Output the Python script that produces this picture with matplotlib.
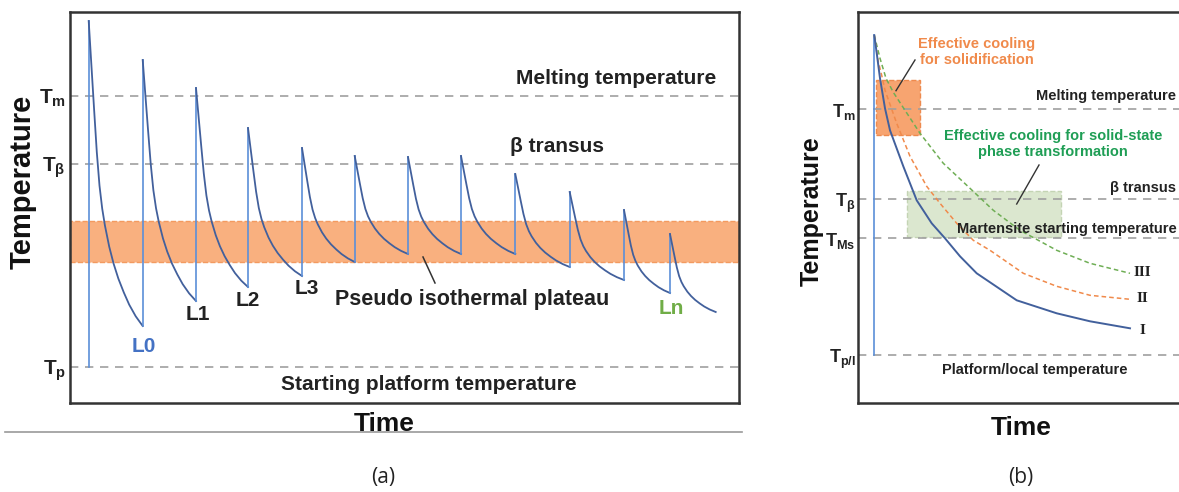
import numpy as np
import matplotlib
matplotlib.use("Agg")
import matplotlib.pyplot as plt

plt.rcParams['font.family'] = ['Liberation Sans', 'DejaVu Sans']
plt.rcParams['mathtext.fontset'] = 'custom'
plt.rcParams['mathtext.rm'] = 'Liberation Sans:bold'
plt.rcParams['mathtext.bf'] = 'Liberation Sans:bold'
plt.rcParams['mathtext.it'] = 'Liberation Sans:bold'

# ---- panel (a): layer-by-layer thermal cycles (schematic units) ----
T_m_a, T_beta_a, T_p_a = 307, 239, 36
band_lo, band_hi = 141, 182
spike_x = [18.7, 72.7, 126, 178, 232, 284.7, 338, 391, 445.3, 499.7, 554, 600]
spike_peak = [382, 343, 315, 275, 255, 247, 246, 247, 229, 211, 193, 169]
cycle_end_x = [72.7, 126, 178, 232, 284.7, 338, 391, 445.3, 499.7, 554, 600, 645.7]
cycle_end_y = [77, 102, 116, 127, 141, 149, 149, 149, 136, 123, 110, 91]
# normalised cooling shape
decay_t = [0, 0.05, 0.1, 0.15, 0.2, 0.25, 0.3, 0.38, 0.46, 0.55, 0.65,
           0.75, 0.87, 1.0]
decay_f = [0, 0.145, 0.29, 0.43, 0.54, 0.615, 0.67, 0.74, 0.795, 0.845,
           0.89, 0.93, 0.968, 1.0]
layer_labels = ["L0", "L1", "L2", "L3", "Ln"]
layer_pos = [(74, 56), (128, 88), (178, 102), (237, 115), (601, 95)]
layer_colors = ["#4472c4", "#222222", "#222222", "#222222", "#70ad47"]

# ---- panel (b): cooling curves ----
T_m_b, T_beta_b, T_ms_b, T_pl_b = 294, 204, 165, 48
start_x, peak_b = 16, 368
curve1_x = [16, 18.7, 21.7, 26.7, 31.7, 45, 58.4, 73.4, 86.7, 101.7, 118.4,
            134.7, 158.4, 198.4, 231.7, 271.7]
curve1_y = [368, 348, 325, 295, 273, 237, 203, 180, 165, 147, 130,
            119, 103, 90, 82, 75]
curve2_x = [16, 19.7, 23.4, 26.7, 38.4, 51.7, 68.4, 81.7, 98.4, 115, 131.7,
            165, 198.4, 231.7, 271.7]
curve2_y = [368, 343, 328, 313, 280, 247, 217, 200, 180, 163, 153,
            130, 117, 108, 104]
curve3_x = [16, 21.7, 27.7, 35, 46.7, 61.7, 85, 111.7, 135, 161.7, 198.4,
            231.7, 271.7]
curve3_y = [368, 345, 325, 311, 293, 270, 240, 215, 193, 173, 153, 140, 130]
solid_box = (17.7, 268.6, 44, 54.7)   # x, y, w, h
phase_box = (48.4, 166.6, 154, 45.7)

W, H = 1179, 492
fig = plt.figure(figsize=(W / 100, H / 100), dpi=100)

grey = "#a0a0a0"
blue_dark = "#42609c"
blue_light = "#5b8fd8"

# ================= (a) =================
ax = fig.add_axes([70 / W, (H - 403) / H, 669 / W, 391 / H])
ax.set_xlim(0, 669)
ax.set_ylim(0, 391)
ax.axhspan(band_lo, band_hi, facecolor="#f9b07f", edgecolor="#f39a60",
           linestyle="--", linewidth=1.0, zorder=1)
for yv in [T_m_a, T_beta_a, T_p_a]:
    ax.axhline(yv, color=grey, linestyle=(0, (5, 4)), linewidth=1.2, zorder=2)

prev_y = T_p_a
for i in range(len(spike_x)):
    ax.plot([spike_x[i], spike_x[i]], [prev_y, spike_peak[i]],
            color=blue_light, linewidth=1.2, zorder=3)
    t = np.array(decay_t)
    f = np.array(decay_f)
    xs = spike_x[i] + t * (cycle_end_x[i] - spike_x[i])
    ys = spike_peak[i] - f * (spike_peak[i] - cycle_end_y[i])
    ax.plot(xs, ys, color=blue_dark, linewidth=1.3, zorder=3)
    prev_y = cycle_end_y[i]

ax.set_yticks([T_m_a, T_beta_a, T_p_a])
ax.set_yticklabels([r"$\mathbf{T_m}$", r"$\mathbf{T_{\beta}}$", r"$\mathbf{T_p}$"],
                   fontsize=15, color="#222222")
ax.set_xticks([])
ax.tick_params(axis="y", length=0, pad=3)
for s in ax.spines.values():
    s.set_linewidth(1.8)
    s.set_color("#333333")

ax.text(646, 325, "Melting temperature", ha="right", va="center",
        fontsize=15, fontweight="bold", color="#222222")
ax.text(440, 257, "β transus", ha="left", va="center",
        fontsize=15, fontweight="bold", color="#222222")
ax.text(265, 103, "Pseudo isothermal plateau", ha="left", va="center",
        fontsize=15.5, fontweight="bold", color="#222222")
ax.plot([365, 353], [120, 146], color="#333333", linewidth=1.1, zorder=4)
ax.text(359, 18, "Starting platform temperature", ha="center", va="center",
        fontsize=15, fontweight="bold", color="#222222")
for lab, (lx, ly), lc in zip(layer_labels, layer_pos, layer_colors):
    ax.text(lx, ly, lab, ha="center", va="center", fontsize=15,
            fontweight="bold", color=lc)

fig.text(23 / W, 1 - 182 / H, "Temperature", rotation=90, ha="center",
         va="center", fontsize=21, fontweight="bold", color="#111111")
fig.text(384 / W, 1 - 424 / H, "Time", ha="center", va="center",
         fontsize=19, fontweight="bold", color="#111111")
fig.add_artist(plt.Line2D([5 / W, 742 / W], [1 - 432 / H, 1 - 432 / H],
                          color="#999999", linewidth=1.2))
fig.text(383 / W, 1 - 478 / H, "(a)", ha="center", va="center",
         fontsize=15, family=["Open Sans", "DejaVu Sans"], color="#222222")

# ================= (b) =================
bx = fig.add_axes([858.3 / W, (H - 403.3) / H, 340 / W, 391 / H])
bx.set_xlim(0, 340)
bx.set_ylim(0, 391)
bx.add_patch(plt.Rectangle(solid_box[:2], solid_box[2], solid_box[3],
                           facecolor="#f7a470", edgecolor="#ee8a4e",
                           linestyle="--", linewidth=1.0, zorder=1))
bx.add_patch(plt.Rectangle(phase_box[:2], phase_box[2], phase_box[3],
                           facecolor="#dbe7cf", edgecolor="#c4d4b4",
                           linestyle="--", linewidth=1.0, zorder=1))
for yv in [T_m_b, T_beta_b, T_ms_b, T_pl_b]:
    bx.axhline(yv, color=grey, linestyle=(0, (5, 4)), linewidth=1.2, zorder=2)

bx.plot([start_x, start_x], [T_pl_b, peak_b], color=blue_light,
        linewidth=1.2, zorder=3)
bx.plot(curve3_x, curve3_y, color="#6fae55", linestyle=(0, (3, 2)),
        linewidth=1.1, zorder=3)
bx.plot(curve2_x, curve2_y, color="#f08a4b", linestyle=(0, (3, 2)),
        linewidth=1.1, zorder=3)
bx.plot(curve1_x, curve1_y, color=blue_dark, linewidth=1.4, zorder=3)

bx.set_yticks([T_m_b, T_beta_b, T_ms_b, T_pl_b])
bx.set_yticklabels([r"$\mathbf{T_m}$", r"$\mathbf{T_{\beta}}$",
                    r"$\mathbf{T_{Ms}}$", r"$\mathbf{T_{p/l}}$"],
                   fontsize=13, color="#222222")
bx.set_xticks([])
bx.tick_params(axis="y", length=0, pad=2)
for s in bx.spines.values():
    s.set_linewidth(1.8)
    s.set_color("#333333")

txt = dict(fontsize=10.5, fontweight="bold", color="#222222")
bx.text(318, 307.6, "Melting temperature", ha="right", va="center", **txt)
bx.text(318, 215.3, "β transus", ha="right", va="center", **txt)
bx.text(318, 174.6, "Martensite starting temperature", ha="right",
        va="center", **txt)
bx.text(176.7, 33.3, "Platform/local temperature", ha="center",
        va="center", **txt)
bx.text(118.4, 351, "Effective cooling\nfor solidification", ha="center",
        va="center", fontsize=10.5, fontweight="bold", color="#f08a4b",
        linespacing=1.2)
bx.plot([56.7, 37.7], [343.3, 312.6], color="#333333", linewidth=1.0, zorder=4)
bx.text(194.7, 259.3, "Effective cooling for solid-state\nphase transformation",
        ha="center", va="center", fontsize=10.5, fontweight="bold",
        color="#1f9e55", linespacing=1.2)
bx.plot([180.7, 158.4], [238.3, 199.3], color="#333333", linewidth=1.0, zorder=4)
for lab, ly in zip(["III", "II", "I"], [131.3, 104.3, 73.3]):
    bx.text(284.4, ly, lab, ha="center", va="center", fontsize=11,
            fontweight="bold", family=["Liberation Serif", "DejaVu Serif"],
            color="#222222")

fig.text(812 / W, 1 - 211 / H, "Temperature", rotation=90, ha="center",
         va="center", fontsize=18, fontweight="bold", color="#111111")
fig.text(1021 / W, 1 - 428 / H, "Time", ha="center", va="center",
         fontsize=19, fontweight="bold", color="#111111")
fig.text(1021 / W, 1 - 478 / H, "(b)", ha="center", va="center",
         fontsize=15, family=["Open Sans", "DejaVu Sans"], color="#222222")

fig.savefig("out.png", dpi=100)
